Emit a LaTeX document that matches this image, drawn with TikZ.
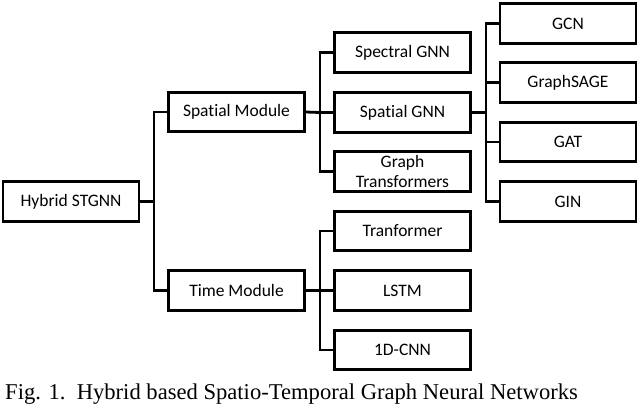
\documentclass[tikz,border=0pt]{standalone}
\usepackage{fontspec}
\setmainfont{Carlito}[Ligatures=CommonOff]
\newfontfamily\capfont{Liberation Serif}
\begin{document}
\begin{tikzpicture}[x=1pt,y=-1pt,
  box/.style={draw,line width=2.6pt,minimum width=136pt,minimum height=39.5pt,inner sep=0pt,
    font=\fontsize{17.5}{20}\selectfont,align=center},
  conn/.style={line width=2.8pt}]
\useasboundingbox (0,0) rectangle (640,405);
\node[box] (hyb) at (71,201.5) {Hybrid STGNN};
\node[box] (sm) at (236.5,112) {Spatial Module};
\node[box] (tm) at (236.5,290.5) {Time Module};
\node[box] (spec) at (402.5,52.5) {Spectral GNN};
\node[box] (sgnn) at (402.5,112.5) {Spatial GNN};
\node[box] (gt) at (402.5,171.5) {Graph\\Transformers};
\node[box] (tr) at (402.5,231) {Tranformer};
\node[box] (lstm) at (402.5,290.5) {LSTM};
\node[box] (cnn) at (402.5,350) {1D-CNN};
\node[box] (gcn) at (568,23.5) {GCN};
\node[box] (gsage) at (568,82.5) {GraphSAGE};
\node[box] (gat) at (568,142) {GAT};
\node[box] (gin) at (568,201.5) {GIN};
\coordinate (j1) at (154,201.5);
\coordinate (j2) at (320,112.5);
\coordinate (j3) at (486,112.5);
\coordinate (j4) at (320,290.5);
\draw[conn] (hyb.east) -- (j1);
\draw[conn] (sm.west) -| (j1) |- (tm.west);
\draw[conn] (sm.east) -- (j2);
\draw[conn] (spec.west) -| (j2) |- (gt.west);
\draw[conn] (sgnn.west) -- (j2);
\draw[conn] (sgnn.east) -- (j3);
\draw[conn] (gcn.west) -| (j3) |- (gin.west);
\draw[conn] (gsage.west) -| (j3);
\draw[conn] (gat.west) -| (j3);
\draw[conn] (tm.east) -- (j4);
\draw[conn] (tr.west) -| (j4) |- (cnn.west);
\draw[conn] (lstm.west) -- (j4);
\node[anchor=base west,inner sep=0pt,font=\capfont\fontsize{22.6}{26}\selectfont] (cap) at (5,399.5)
  {Fig. 1.\ \ Hybrid based Spatio-Temporal Graph Neural Networks};
\end{tikzpicture}
\end{document}
